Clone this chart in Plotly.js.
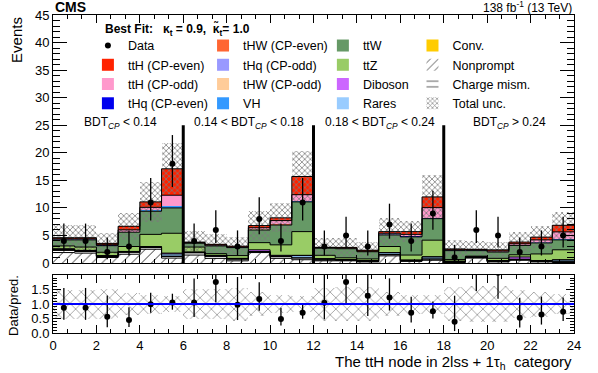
<!DOCTYPE html>
<html>
<head>
<meta charset="utf-8">
<script src="https://cdn.plot.ly/plotly-3.0.1.min.js"></script>
<style>
  body { margin: 0; background: white; }
  #chart { width: 598px; height: 373px; }
</style>
</head>
<body>
<div id="chart"></div>
<script>
// bins of the ttH node, 2lss + 1tau_h
const binEdges = [0,1,2,3,4,5,6,7,8,9,10,11,12,13,14,15,16,17,18,19,20,21,22,23,24];
const binCenters = [0.5,1.5,2.5,3.5,4.5,5.5,6.5,7.5,8.5,9.5,10.5,11.5,12.5,13.5,14.5,15.5,16.5,17.5,18.5,19.5,20.5,21.5,22.5,23.5];

const dataObs = [4,4,2,3,11,18,4,6,3,8,4,11,3,5,3,7,4,9,1,6,5,2,3,5];
const dataErrUp = [3.16,3.16,2.64,2.92,4.41,5.22,3.16,3.58,2.92,3.95,3.16,4.41,2.92,3.38,2.92,3.77,3.16,4.11,2.30,3.58,3.38,2.64,2.92,3.38];
const dataErrDn = [1.91,1.91,1.29,1.63,3.27,4.22,1.91,2.38,1.63,2.77,1.91,3.27,1.63,2.16,1.63,2.58,1.91,2.94,0.83,2.38,2.16,1.29,1.63,2.16];

// backgrounds + signals, bottom of the stack first
const nonprompt = [1.9,1.8,1.0,1.6,2.5,0.9,1.45,0.85,0.4,1.9,0.85,0.6,0.4,0.4,0.2,1.3,0.3,0.5,0.1,0.9,0.2,0.5,0.2,0.1];
const chargeMis = [0.4,0.3,0.2,0.35,0.3,0.3,0.4,0.4,0.3,0.1,0.3,0.3,0.15,0.1,0.1,0.2,0.1,0.2,0.1,0.1,0.1,0.1,0.1,0.1];
const conv = [0.05,0.05,0.05,0.05,0.05,0.05,0.05,0.05,0.05,0.05,0.05,0.05,0.05,0.05,0.05,0.05,0.05,0.05,0.05,0.05,0.05,0.05,0.05,0.05];
const rares = [0.1,0.1,0.05,0.05,0.1,0.4,0.05,0.05,0.05,0.05,0.1,0.4,0.15,0.05,0.05,0.3,0.05,0.35,0.05,0.05,0.05,0.05,0.05,0.3];
const diboson = [0.15,0.05,0.05,0.05,0.05,0.15,0.05,0.05,0.05,0.3,0.1,0.05,0.05,0.05,0.05,0.05,0.05,0.05,0.05,0.05,0.05,0.4,0.05,0.05];
const ttZ = [0.5,0.6,0.6,0.9,2.2,3.6,0.9,0.3,0.5,1.3,1.9,4.3,0.6,0.3,0.3,1.1,0.9,3.0,0.3,0.1,0.4,0.4,1.2,1.8];
const ttW = [1.1,1.3,1.2,2.6,4.2,4.6,0.7,1.4,1.45,2.3,3.6,5.4,1.3,1.65,1.3,2.1,3.3,3.9,1.6,1.0,1.15,1.7,2.0,1.8];
const vh = [0.06,0.06,0.03,0.08,0.16,0.26,0.01,0.01,0.01,0.06,0.06,0.16,0.01,0.01,0.01,0.06,0.06,0.16,0.01,0.01,0.01,0.06,0.06,0.11];
const tHqEven = [0.01,0.01,0.01,0.01,0.01,0.01,0.01,0.01,0.01,0.01,0.01,0.01,0.01,0.01,0.01,0.01,0.01,0.01,0.01,0.01,0.01,0.01,0.01,0.01];
const tHqOdd = [0.01,0.01,0.01,0.01,0.01,0.01,0.01,0.01,0.01,0.01,0.01,0.01,0.01,0.01,0.01,0.01,0.01,0.01,0.01,0.01,0.01,0.01,0.01,0.01];
const tHWOdd = [0.01,0.01,0.01,0.01,0.01,0.01,0.01,0.01,0.01,0.01,0.01,0.01,0.01,0.01,0.01,0.01,0.01,0.01,0.01,0.01,0.01,0.01,0.01,0.01];
const tHWEven = [0.01,0.01,0.01,0.01,0.01,0.01,0.01,0.01,0.01,0.01,0.01,0.01,0.01,0.01,0.01,0.01,0.01,0.01,0.01,0.01,0.01,0.01,0.01,0.01];
const ttHOdd = [0.1,0.1,0.1,0.3,0.5,2.0,0.05,0.1,0.06,0.3,0.7,1.1,0.04,0.07,0.08,0.2,0.35,1.8,0.1,0.1,0.15,0.2,0.45,1.3];
const ttHEven = [0.2,0.2,0.25,0.65,1.0,4.8,0.1,0.15,0.15,0.4,0.5,3.3,0.07,0.12,0.15,0.3,0.5,1.95,0.16,0.1,0.2,0.3,0.5,1.2];

// relative total uncertainty per bin
const relUnc = [0.5,0.5,0.52,0.37,0.33,0.27,0.52,0.53,0.57,0.4,0.32,0.29,0.57,0.6,0.6,0.42,0.33,0.33,0.6,0.62,0.62,0.48,0.43,0.35];

const FONT = "Liberation Sans, Arial, Helvetica, sans-serif";

// stack definitions: values, name, colour, legend column, row
const stack = [
    {y: nonprompt, name: "Nonprompt", color: "white", pattern: "/", leg: "legend4", rank: 2, line: true},
    {y: chargeMis, name: "Charge mism.", color: "white", pattern: "-", leg: "legend4", rank: 3, line: true},
    {y: conv, name: "Conv.", color: "#ffcc00", leg: "legend4", rank: 1, line: true},
    {y: rares, name: "Rares", color: "#99ccff", leg: "legend3", rank: 4, line: true},
    {y: diboson, name: "Diboson", color: "#cc66ff", leg: "legend3", rank: 3, line: true},
    {y: ttZ, name: "ttZ", color: "#99cc66", leg: "legend3", rank: 2, line: true},
    {y: ttW, name: "ttW", color: "#669966", leg: "legend3", rank: 1, line: true},
    {y: vh, name: "VH", color: "#3399ff", leg: "legend2", rank: 4},
    {y: tHqEven, name: "tHq (CP-even)", color: "#0000ee", leg: "legend", rank: 4},
    {y: tHqOdd, name: "tHq (CP-odd)", color: "#9999ff", leg: "legend2", rank: 2},
    {y: tHWOdd, name: "tHW (CP-odd)", color: "#ffcc99", leg: "legend2", rank: 3},
    {y: tHWEven, name: "tHW (CP-even)", color: "#ff6633", leg: "legend2", rank: 1},
    {y: ttHOdd, name: "ttH (CP-odd)", color: "#ff99cc", leg: "legend", rank: 3, line: true},
    {y: ttHEven, name: "ttH (CP-even)", color: "#ff2200", leg: "legend", rank: 2, line: true}
];

const traces = [];
let cum = binCenters.map(() => 0);
const levels = [];

stack.forEach(s => {
    const base = cum.slice();
    cum = cum.map((c, i) => c + s.y[i]);
    const marker = {color: s.color, line: {width: 0}};
    if (s.pattern) {
        marker.pattern = {shape: s.pattern, fgcolor: "#333", bgcolor: "white", size: 7, solidity: 0.14};
    }
    traces.push({
        type: "bar", x: binCenters, y: s.y, base: base, width: 1,
        name: s.name, marker: marker, legend: s.leg, legendrank: s.rank,
        xaxis: "x", yaxis: "y", hoverinfo: "skip"
    });
    if (s.line) levels.push(cum.slice());
});

const total = cum;

// outline steps of the stack
levels.forEach(lv => {
    traces.push({
        type: "scatter", mode: "lines", x: binEdges, y: lv.concat([lv[lv.length - 1]]),
        line: {shape: "hv", color: "black", width: 1},
        showlegend: false, hoverinfo: "skip", xaxis: "x", yaxis: "y"
    });
});

// total uncertainty band, main panel
traces.push({
    type: "bar", x: binCenters, width: 1,
    y: total.map((t, i) => 2 * t * relUnc[i]),
    base: total.map((t, i) => t * (1 - relUnc[i])),
    name: "Total unc.", legend: "legend4", legendrank: 4,
    marker: {color: "rgba(0,0,0,0)", line: {width: 0},
        pattern: {shape: "x", fgcolor: "#7a7a7a", bgcolor: "rgba(0,0,0,0)", size: 4, solidity: 0.35}},
    xaxis: "x", yaxis: "y", hoverinfo: "skip"
});

// data
traces.push({
    type: "scatter", mode: "markers", x: binCenters, y: dataObs, name: "Data",
    legend: "legend", legendrank: 1,
    marker: {color: "black", size: 6},
    error_y: {type: "data", symmetric: false, array: dataErrUp, arrayminus: dataErrDn,
        color: "black", thickness: 1.3, width: 0},
    xaxis: "x", yaxis: "y"
});

// ratio panel
traces.push({
    type: "bar", x: binCenters, width: 1,
    y: relUnc.map(u => 2 * u), base: relUnc.map(u => 1 - u),
    showlegend: false,
    marker: {color: "rgba(0,0,0,0)", line: {width: 0},
        pattern: {shape: "x", fgcolor: "#555", bgcolor: "rgba(0,0,0,0)", size: 8, solidity: 0.12}},
    xaxis: "x2", yaxis: "y2", hoverinfo: "skip"
});

traces.push({
    type: "scatter", mode: "markers", x: binCenters,
    y: dataObs.map((d, i) => d / total[i]),
    showlegend: false,
    marker: {color: "black", size: 6},
    error_y: {type: "data", symmetric: false,
        array: dataErrUp.map((e, i) => e / total[i]),
        arrayminus: dataErrDn.map((e, i) => e / total[i]),
        color: "black", thickness: 1.3, width: 0},
    xaxis: "x2", yaxis: "y2"
});

const axisStyle = {
    showline: true, linecolor: "black", linewidth: 1, mirror: "allticks",
    ticks: "inside", tickcolor: "black", showgrid: false, zeroline: false,
    tickfont: {family: FONT, size: 13, color: "black"}
};

const legendStyle = {
    bgcolor: "rgba(0,0,0,0)", borderwidth: 0, xanchor: "left", yanchor: "top",
    yref: "paper", font: {family: FONT, size: 12.5, color: "black"},
    tracegroupgap: 0, itemwidth: 30, traceorder: "normal"
};

const cutLabel = (txt, x) => ({
    text: txt, x: x, y: 25.4, xref: "x", yref: "y", showarrow: false,
    font: {family: FONT, size: 12, color: "black"}
});

const layout = {
    width: 598, height: 373,
    margin: {l: 53, r: 24, t: 15, b: 40},
    paper_bgcolor: "white", plot_bgcolor: "white",
    barmode: "overlay", bargap: 0,
    font: {family: FONT, color: "black"},
    xaxis: Object.assign({}, axisStyle, {
        anchor: "y", range: [0, 24], dtick: 2, tick0: 0, ticklen: 8,
        showticklabels: false, matches: "x2",
        minor: {ticks: "inside", ticklen: 4, dtick: 2 / 3, tickcolor: "black"}
    }),
    yaxis: Object.assign({}, axisStyle, {
        domain: [0.22, 1], range: [0, 45], dtick: 5, ticklen: 14,
        minor: {ticks: "inside", ticklen: 7, dtick: 1, tickcolor: "black"}
    }),
    xaxis2: Object.assign({}, axisStyle, {
        anchor: "y2", range: [0, 24], dtick: 2, tick0: 0, ticklen: 8,
        minor: {ticks: "inside", ticklen: 4, dtick: 2 / 3, tickcolor: "black"}
    }),
    yaxis2: Object.assign({}, axisStyle, {
        domain: [0, 0.182], range: [0, 2],
        tickvals: [0, 0.5, 1, 1.5], ticktext: ["0.0", "0.5", "1.0", "1.5"], ticklen: 8,
        minor: {ticks: "inside", ticklen: 4, dtick: 0.1, tickcolor: "black"}
    }),
    legend: Object.assign({}, legendStyle, {x: 0.067, y: 0.95}),
    legend2: Object.assign({}, legendStyle, {x: 0.288, y: 0.95}),
    legend3: Object.assign({}, legendStyle, {x: 0.518, y: 0.95}),
    legend4: Object.assign({}, legendStyle, {x: 0.690, y: 0.95}),
    shapes: [6, 12, 18].map(xv => ({
        type: "line", xref: "x", yref: "y", x0: xv, x1: xv, y0: 0, y1: 25,
        line: {color: "black", width: 3}
    })).concat([{
        type: "line", xref: "x2", yref: "y2", x0: 0, x1: 24, y0: 1, y1: 1,
        line: {color: "#0000ff", width: 2}
    }]),
    annotations: [
        {text: "<b>CMS</b>", x: 0, y: 1.025, xref: "paper", yref: "paper", xanchor: "left",
            yanchor: "middle", showarrow: false, font: {family: FONT, size: 14}},
        {text: "138 fb<sup>-1</sup> (13 TeV)", x: 1, y: 1.025, xref: "paper", yref: "paper",
            xanchor: "right", yanchor: "middle", showarrow: false, font: {family: FONT, size: 12}},
        {text: "<b>Best Fit:   κ<sub>t</sub> = 0.9,  κ̃<sub>t</sub>= 1.0</b>", x: 0.096, y: 0.955,
            xref: "paper", yref: "paper", xanchor: "left", yanchor: "middle", showarrow: false,
            font: {family: FONT, size: 12}},
        cutLabel("BDT<sub><i>CP</i></sub> &lt; 0.14", 3.1),
        cutLabel("0.14 &lt; BDT<sub><i>CP</i></sub> &lt; 0.18", 9.05),
        cutLabel("0.18 &lt; BDT<sub><i>CP</i></sub> &lt; 0.24", 15.05),
        cutLabel("BDT<sub><i>CP</i></sub> &gt; 0.24", 21.05),
        {text: "Events", x: -0.07, y: 0.92, xref: "paper", yref: "paper", xanchor: "center",
            yanchor: "middle", textangle: -90, showarrow: false, font: {family: FONT, size: 15}},
        {text: "Data/pred.", x: -0.077, y: 0.088, xref: "paper", yref: "paper", xanchor: "center",
            yanchor: "middle", textangle: -90, showarrow: false, font: {family: FONT, size: 13}},
        {text: "The ttH node in 2lss + 1τ<sub>h</sub>  category", x: 1, y: -0.092, xref: "paper",
            yref: "paper", xanchor: "right", yanchor: "middle", showarrow: false,
            font: {family: FONT, size: 15}}
    ],
    showlegend: true
};

Plotly.newPlot("chart", traces, layout, {staticPlot: true});
</script>
</body>
</html>
